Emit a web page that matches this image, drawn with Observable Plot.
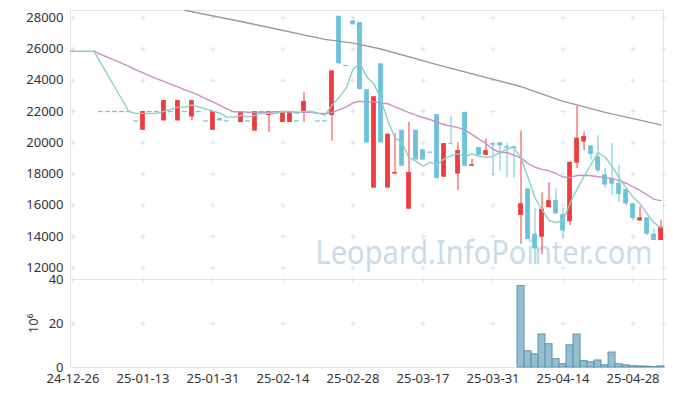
<!DOCTYPE html>
<html><head><meta charset="utf-8">
<script src="https://cdn.jsdelivr.net/npm/d3@7"></script>
<script src="https://cdn.jsdelivr.net/npm/@observablehq/plot@0.6"></script>
<style>
body{margin:0;background:#fff;}
#chart{position:relative;width:673px;height:396px;}
#chart svg{position:absolute;left:0;overflow:visible;background:transparent;}
</style></head><body><div id="chart"></div>
<script>
// Trading days (x categories)
const dates = ["2024-12-26","2024-12-27","2024-12-30","2025-01-02","2025-01-03","2025-01-06","2025-01-07","2025-01-08","2025-01-09","2025-01-10",
"2025-01-13","2025-01-14","2025-01-15","2025-01-16","2025-01-17","2025-01-20","2025-01-21","2025-01-22","2025-01-23","2025-01-24",
"2025-01-31","2025-02-03","2025-02-04","2025-02-05","2025-02-06","2025-02-07","2025-02-10","2025-02-11","2025-02-12","2025-02-13",
"2025-02-14","2025-02-17","2025-02-18","2025-02-19","2025-02-20","2025-02-21","2025-02-24","2025-02-25","2025-02-26","2025-02-27",
"2025-02-28","2025-03-04","2025-03-05","2025-03-06","2025-03-07","2025-03-10","2025-03-11","2025-03-12","2025-03-13","2025-03-14",
"2025-03-17","2025-03-18","2025-03-19","2025-03-20","2025-03-21","2025-03-24","2025-03-25","2025-03-26","2025-03-27","2025-03-28",
"2025-03-31","2025-04-01","2025-04-02","2025-04-03","2025-04-04","2025-04-07","2025-04-08","2025-04-09","2025-04-10","2025-04-11",
"2025-04-14","2025-04-15","2025-04-16","2025-04-17","2025-04-18","2025-04-21","2025-04-22","2025-04-23","2025-04-24","2025-04-25",
"2025-04-28","2025-04-29","2025-04-30","2025-05-02","2025-05-07"];

const open = [25850,25850,25850,25850,22000,22000,22000,22000,22000,21400,
20800,22000,22000,21400,22000,21400,22000,21650,22000,21400,
20800,21550,21400,22000,21300,21400,20750,22000,21750,22000,
21300,21300,21400,22000,22000,21400,21400,21750,28100,24950,
27800,27700,23400,17100,25050,17100,18000,20800,15750,20800,
19550,19400,21800,17800,19950,18000,21950,18500,19700,19200,
19950,20000,19750,19750,15350,17050,14150,13950,15850,16300,
15400,14950,18700,20050,19800,19100,17950,17700,17400,17000,
16100,15000,15200,14150,13750];

const high = [25850,25850,25850,25850,22000,22000,22000,22000,22000,21400,
22000,22000,22000,22700,22000,22700,22000,22700,22000,21400,
22000,21550,21400,22000,22000,21400,22000,22000,22000,22000,
22000,22000,21400,23200,22000,21400,21400,24600,28100,24950,
27800,27700,23400,22950,25050,20550,20600,20800,21300,20800,
19550,19400,21800,19950,21700,20000,21950,18950,19700,20250,
19950,20000,19950,19750,20750,17050,15800,16800,17450,17050,
15800,18750,22350,20700,19800,20450,18350,19950,18550,17000,
16100,15900,15200,14500,15050];

const low = [25850,25850,25850,25850,22000,22000,22000,22000,22000,21400,
20800,22000,22000,21400,22000,21400,22000,21400,22000,21400,
20800,21400,21400,22000,21300,21400,20750,22000,20650,22000,
21300,21300,21400,21300,22000,21400,21400,20100,25050,24950,
27550,23400,19950,17100,20000,17100,18000,18500,15750,18900,
18900,19400,17700,17800,19900,16950,18500,18500,19200,19200,
17850,18200,17750,17750,13500,13800,12200,12850,15850,15450,
13850,14700,18350,19500,18900,18100,17100,16600,16200,15950,
15000,15000,14050,13750,13750];

const close = [25850,25850,25850,25850,22000,22000,22000,22000,22000,21400,
22000,22000,22000,22700,22000,22700,22000,22700,22000,21400,
22000,21400,21400,22000,22000,21400,22000,22000,22000,22000,
22000,22000,21400,22650,22000,21400,21400,24600,25050,24950,
27550,23400,20000,22950,20000,20550,18100,18500,18100,18900,
18900,19400,17700,19950,19900,19500,18500,18600,19200,19500,
19850,19800,19650,19650,16100,13800,13200,15750,16300,15450,
14350,18750,20300,20400,19250,18200,17300,17350,16700,16100,
15150,15200,14150,13750,14600];

// volume in millions of shares
const volume = [0,0,0,0,0,0,0,0,0,0,
0,0,0,0,0,0,0,0,0,0,
0,0,0,0,0,0,0,0,0,0,
0,0,0,0,0,0,0,0,0,0,
0,0,0,0,0,0,0,0,0,0,
0,0,0,0,0,0,0,0,0,0,
0,0,0,0,37,7.4,6.0,15.0,10.6,3.8,
1.5,10.1,15.0,2.9,2.4,3.2,1.0,6.8,1.5,1.0,
0.6,0.5,0.4,0.2,0.5];

// closes before the first shown day (for the moving averages)
const priorCloses = [25850,25850,25850,25850,25850,25850,25850,25850,25850,25850,
25850,25850,25850,25850,25850,25850,25850,25850,25850];

// long moving average, read at its bends
const longMaSlot = [16,24,28,36,40,44,52,64,70,72,76,84];
const longMaValue = [28480,27760,27380,26620,26380,26000,25000,23600,22650,22430,21950,21150];

const priceTicks = [12000,14000,16000,18000,20000,22000,24000,26000,28000];
const volTicks = [0,20,40];
const xTickSlots = [0,10,20,30,40,50,60,70,80];
const watermark = "Leopard.InfoPointer.com";

const RED = "#ef3b3e", BLUE = "#6cc2da";
const candles = dates.map((d,i)=>({i, date:d, open:open[i], high:high[i], low:low[i], close:close[i]}));
const moving = d => d.close > d.open;
const colorOf = d => d.close > d.open ? RED : BLUE;
const solid = candles.filter(d => d.open !== d.close || d.high !== d.low);
const flat = candles.filter(d => d.open === d.close);
const maRows = priorCloses.map((c,k)=>({i:k-priorCloses.length, close:c})).concat(candles);
const longMa = longMaSlot.map((s,k)=>({i:s, v:longMaValue[k]}));
const vols = volume.map((v,i)=>({i, v})).filter(d=>d.v>0);
const xDomain = [-0.35, 84.35];
const gridX = xTickSlots.concat([xDomain[1]]);
const gridUpper = gridX.flatMap(x => priceTicks.map(y => ({x,y})));
const gridLower = gridX.flatMap(x => [20,40].map(y => ({x,y})));
const font = {fontFamily:"'Noto Sans', sans-serif", fontSize:"13px", color:"#333", background:"transparent"};
const hw = 0.34;

const upper = Plot.plot({
  width:673, height:279, marginTop:10, marginBottom:0, marginLeft:70, marginRight:10,
  style:font,
  x:{domain:xDomain, axis:null},
  y:{domain:[11251,28467], ticks:priceTicks, tickSize:0, tickPadding:7, label:null},
  color:{type:"identity"},
  marks:[
    Plot.frame({stroke:"#e4e4e4"}),
    Plot.dot(gridUpper, {x:"x", y:"y", symbol:"plus", r:1.8, stroke:"#e0e0e0", strokeWidth:1}),
    Plot.text([watermark], {frameAnchor:"bottom-right", textAnchor:"end", lineAnchor:"bottom", dx:-11, dy:-16, fontSize:32, fill:"#c9dce7", text:d=>d}),
    Plot.ruleX(solid, {x:"i", y1:"low", y2:"high", stroke:colorOf, strokeWidth:1}),
    Plot.rect(solid.filter(d=>d.open!==d.close), {x1:d=>d.i-hw, x2:d=>d.i+hw, y1:"open", y2:"close", fill:colorOf}),
    Plot.ruleY(flat, {y:"close", x1:d=>d.i-hw, x2:d=>d.i+hw, stroke:BLUE, strokeWidth:1.2}),
    Plot.line(longMa, {x:"i", y:"v", stroke:"#9a9a9a", strokeWidth:1.4, clip:true}),
    Plot.line(maRows, Plot.windowY({k:20, anchor:"end", reduce:"mean"}, {x:"i", y:"close", stroke:"#cc8ec6", strokeWidth:1.4, clip:true})),
    Plot.line(maRows, Plot.windowY({k:5, anchor:"end", reduce:"mean"}, {x:"i", y:"close", stroke:"#8ccfc5", strokeWidth:1.4, clip:true})),
    Plot.axisY({ticks:priceTicks, tickSize:0, tickPadding:7, tickFormat:d=>String(d), label:null})
  ]
});

const lower = Plot.plot({
  width:673, height:117, marginTop:0, marginBottom:29, marginLeft:70, marginRight:10,
  style:font,
  x:{domain:xDomain},
  y:{domain:[0,40]},
  marks:[
    Plot.frame({stroke:"#e4e4e4"}),
    Plot.dot(gridLower, {x:"x", y:"y", symbol:"plus", r:1.8, stroke:"#e0e0e0", strokeWidth:1}),
    Plot.rectY(vols, {x1:d=>d.i-0.5, x2:d=>d.i+0.5, y:"v", fill:"#94bfd0", stroke:"#5f93ad", strokeWidth:1}),
    Plot.axisX({ticks:xTickSlots, tickSize:0, tickPadding:6, tickFormat:i=>dates[i].slice(2), label:null, fontSize:13}),
    Plot.axisY({ticks:volTicks, tickSize:0, tickPadding:7, label:"10⁶", labelAnchor:"center", labelOffset:42, labelArrow:"none"})
  ]
});

const root = document.getElementById("chart");
upper.style.top = "0px";
lower.style.top = "279px";
root.appendChild(upper);
root.appendChild(lower);
upper.querySelectorAll("text").forEach(t => {
  if (t.textContent === watermark) { t.setAttribute("textLength","337"); t.setAttribute("lengthAdjust","spacingAndGlyphs"); }
});
</script></body></html>
